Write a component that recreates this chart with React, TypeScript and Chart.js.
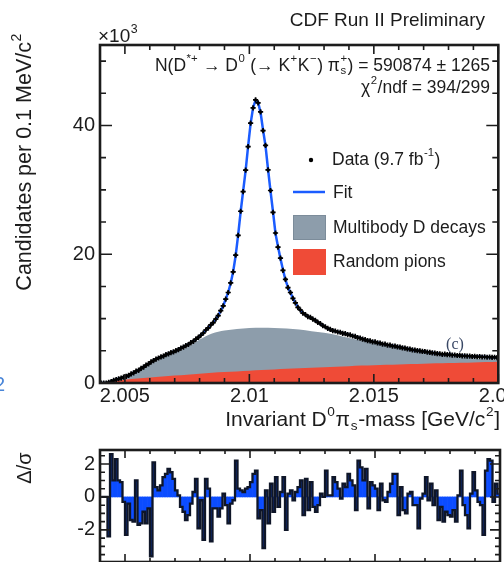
import React, { useEffect, useRef } from 'react';
import { Chart, registerables } from 'chart.js';

Chart.register(...registerables);

// ---------------- data ----------------
const MASS_MIN = 2.004;
const MASS_MAX = 2.02;
const BIN_WIDTH = 0.0001; // 0.1 MeV bins

// candidates per bin (x10^3)
const DATA = [
  0, 0, 0, 0.12, 0.22, 0.42, 0.53, 0.66, 0.76, 0.92,
  1.02, 1.18, 1.42, 1.58, 1.83, 1.97, 2.27, 2.48, 2.77, 2.98,
  3.27, 3.48, 3.72, 3.88, 4.07, 4.18, 4.42, 4.53, 4.72, 4.83,
  5.02, 5.18, 5.43, 5.57, 5.82, 5.98, 6.27, 6.47, 6.83, 7.08,
  7.42, 7.77, 8.23, 8.57, 9.03, 9.38, 9.93, 10.47, 11.24, 11.97,
  13.04, 14.06, 15.55, 17.25, 19.86, 22.94, 26.68, 29.74, 33.08, 36.72,
  40.38, 42.72, 43.98, 43.52, 42.1, 39.2, 36.9, 33.1, 29.9, 26.5,
  23.3, 21.1, 19.4, 17.5, 16.1, 14.8, 14.06, 13.14, 12.46, 11.76,
  11.34, 10.86, 10.64, 10.31, 10.19, 9.91, 9.74, 9.41, 9.24, 8.91,
  8.74, 8.47, 8.33, 8.12, 8.08, 7.92, 7.88, 7.72, 7.68, 7.52,
  7.48, 7.3, 7.23, 7.05, 6.98, 6.8, 6.73, 6.57, 6.55, 6.4,
  6.38, 6.23, 6.2, 6.05, 6.03, 5.89, 5.88, 5.74, 5.72, 5.6,
  5.57, 5.45, 5.42, 5.3, 5.27, 5.15, 5.12, 5.02, 5.0, 4.91,
  4.89, 4.79, 4.77, 4.67, 4.65, 4.56, 4.54, 4.46, 4.47, 4.4,
  4.41, 4.34, 4.35, 4.27, 4.28, 4.21, 4.22, 4.16, 4.18, 4.12,
  4.14, 4.08, 4.1, 4.04, 4.06, 4.0, 4.02, 3.97, 4.0, 3.95,
];

// total fit (x10^3) at the same bin centres
const FIT = [
  0, 0, 0, 0.1, 0.25, 0.4, 0.55, 0.65, 0.78, 0.9,
  1.0, 1.2, 1.4, 1.6, 1.8, 2.0, 2.25, 2.5, 2.75, 3.0,
  3.25, 3.5, 3.7, 3.9, 4.05, 4.2, 4.4, 4.55, 4.7, 4.85,
  5.0, 5.2, 5.4, 5.6, 5.8, 6.0, 6.25, 6.5, 6.8, 7.1,
  7.4, 7.8, 8.2, 8.6, 9.0, 9.4, 9.9, 10.5, 11.2, 12.0,
  13.0, 14.1, 15.5, 17.3, 19.8, 23.0, 26.6, 29.8, 33.0, 36.8,
  40.3, 42.8, 43.9, 43.6, 42.0, 39.3, 36.8, 33.2, 29.8, 26.6,
  23.2, 21.2, 19.3, 17.6, 16.0, 14.9, 14.0, 13.2, 12.4, 11.8,
  11.3, 10.9, 10.6, 10.35, 10.15, 9.95, 9.7, 9.45, 9.2, 8.95,
  8.7, 8.5, 8.3, 8.15, 8.05, 7.95, 7.85, 7.75, 7.65, 7.55,
  7.45, 7.33, 7.2, 7.08, 6.95, 6.83, 6.7, 6.6, 6.52, 6.43,
  6.35, 6.26, 6.17, 6.08, 6.0, 5.92, 5.85, 5.77, 5.7, 5.62,
  5.55, 5.47, 5.4, 5.32, 5.25, 5.17, 5.1, 5.04, 4.98, 4.93,
  4.87, 4.81, 4.75, 4.69, 4.63, 4.58, 4.52, 4.48, 4.45, 4.42,
  4.39, 4.36, 4.33, 4.29, 4.26, 4.23, 4.2, 4.18, 4.16, 4.14,
  4.12, 4.1, 4.08, 4.06, 4.04, 4.02, 4.0, 3.99, 3.98, 3.97,
];

// background components sampled on a coarse mass grid
const BG_MASS = [
  2.0043, 2.0045, 2.005, 2.0055, 2.006, 2.0065, 2.007, 2.0075, 2.008, 2.0085,
  2.009, 2.0095, 2.01, 2.0105, 2.011, 2.0115, 2.012, 2.0125, 2.013, 2.0135,
  2.014, 2.0145, 2.015, 2.0155, 2.016, 2.0165, 2.017, 2.0175, 2.018, 2.0185,
  2.019, 2.0195, 2.02,
];
const RANDOM_PIONS = [
  0, 0.2, 0.5, 0.7, 0.85, 1.0, 1.15, 1.3, 1.45, 1.58,
  1.7, 1.8, 1.9, 2.0, 2.1, 2.2, 2.3, 2.38, 2.46, 2.54,
  2.62, 2.7, 2.77, 2.83, 2.89, 2.95, 3.0, 3.05, 3.1, 3.15,
  3.2, 3.25, 3.3,
];
const MULTIBODY = [
  0, 0.05, 0.35, 1.05, 2.0, 2.95, 3.6, 4.25, 5.3, 6.12,
  6.45, 6.6, 6.65, 6.6, 6.45, 6.25, 6.0, 5.67, 5.34, 4.91,
  4.38, 3.9, 3.43, 2.97, 2.51, 2.1, 1.72, 1.37, 1.05, 0.8,
  0.6, 0.43, 0.3,
];

// pulls Δ/σ per bin
const PULLS = [
  0, 0, 0, -2.4, 2.6, 1.0, 2.3, 1.0, 0.9, -0.3,
  -2.3, -0.4, -1.4, -1.5, 1.0, -1.7, -1.6, -0.9, -1.6, -0.7,
  -3.6, 2.1, 0.6, 0.4, 0.7, 1.2, 1.4, 1.7, 1.5, 1.1,
  0.4, 0.1, -0.6, -0.9, -1.4, -1.1, -0.4, 0.3, 1.1, -1.9,
  -0.2, -2.6, 1.1, 0.5, -2.7, -0.7, -0.7, -1.2, -0.7, 0.2,
  -0.5, -1.6, -0.4, -0.2, 2.2, 0.5, 0.4, 0.3, 0.5, 0.6,
  0.9, 1.4, 1.6, -1.3, -0.8, -3.1, 0.4, -1.6, 0.8, -0.9,
  1.2, -0.6, 0.3, 1.2, -2.0, 0.2, 0.4, -0.2, 0.3, 0.6,
  1.0, -1.1, 1.1, -0.8, 0.9, -0.6, -0.9, -0.5, 0.2, 0.0,
  1.6, 0.1, 0.1, 1.2, 0.9, 0.5, -0.1, 0.8, 0.6, 1.4,
  1.0, 0.7, -0.8, 2.2, 1.8, 1.0, 1.7, -0.7, 0.9, 0.7,
  0.5, -0.8, 0.8, -0.2, -0.3, 0.3, 0.8, 1.4, 1.4, -1.1,
  0.6, -0.8, -1.0, 0.2, 0.3, -0.5, -0.5, -1.9, -0.1, 0.2,
  1.2, -0.2, 0.8, -0.5, 0.4, -1.4, -0.6, -1.5, -0.9, -1.1,
  -1.2, -0.8, -1.5, 0.1, 1.6, -0.5, -1.1, -1.9, 0.2, 1.5,
  0.4, -0.3, -0.5, -2.3, 1.6, 2.3, 2.2, -0.3, 0.8, 0.2,
];

// axis ticks
const X_TICKS = [2.005, 2.01, 2.015, 2.02];
const X_TICK_LABELS = ['2.005', '2.01', '2.015', '2.02'];
const X_MINOR = [2.006, 2.007, 2.008, 2.009, 2.011, 2.012, 2.013, 2.014, 2.016, 2.017, 2.018, 2.019];
const Y_TICKS = [0, 20, 40];
const Y_TICK_LABELS = ['0', '20', '40'];
const Y_MINOR = [5, 10, 15, 25, 30, 35, 45, 50];
const Y_MAX = 52.5;
const P_TICKS = [-2, 0, 2];
const P_TICK_LABELS = ['-2', '0', '2'];
const P_MINOR = [-3.5, -3, -2.5, -1.5, -1, -0.5, 0.5, 1, 1.5, 2.5];
const P_MIN = -3.95;
const P_MAX = 2.85;

// ---------------- styling ----------------
const FONT = '"Liberation Sans", Arial, Helvetica, sans-serif';
const INK = '#1c1c1c';
const BLUE = '#1b5cff';
const GRAY = '#8d9dab';
const RED = '#ef4b37';
const PULL_BLUE = '#0b4cff';
const PULL_DARK = '#0f1628';

type Seg = { t: string; sup?: string; sub?: string };

function richWidth(ctx: CanvasRenderingContext2D, segs: Seg[], size: number) {
  let w = 0;
  for (const s of segs) {
    ctx.font = `${size}px ${FONT}`;
    w += ctx.measureText(s.t).width;
    if (s.sup || s.sub) {
      ctx.font = `${size * 0.65}px ${FONT}`;
      const a = s.sup ? ctx.measureText(s.sup).width : 0;
      const b = s.sub ? ctx.measureText(s.sub).width : 0;
      w += Math.max(a, b) + size * 0.06;
    }
  }
  return w;
}

function drawRich(
  ctx: CanvasRenderingContext2D,
  segs: Seg[],
  x: number,
  y: number,
  size: number,
  align: 'left' | 'right' | 'center',
  color: string
) {
  const w = richWidth(ctx, segs, size);
  let cx = align === 'right' ? x - w : align === 'center' ? x - w / 2 : x;
  ctx.fillStyle = color;
  ctx.textAlign = 'left';
  ctx.textBaseline = 'middle';
  for (const s of segs) {
    ctx.font = `${size}px ${FONT}`;
    ctx.fillText(s.t, cx, y);
    cx += ctx.measureText(s.t).width;
    if (s.sup || s.sub) {
      ctx.font = `${size * 0.65}px ${FONT}`;
      let m = 0;
      if (s.sup) {
        ctx.fillText(s.sup, cx + size * 0.03, y - size * 0.38);
        m = Math.max(m, ctx.measureText(s.sup).width);
      }
      if (s.sub) {
        ctx.fillText(s.sub, cx + size * 0.03, y + size * 0.3);
        m = Math.max(m, ctx.measureText(s.sub).width);
      }
      cx += m + size * 0.06;
    }
  }
}

function drawTicks(
  chart: any,
  xMaj: number[],
  xMin: number[],
  yMaj: number[],
  yMin: number[],
  xMajLen: number,
  xMinLen: number,
  yMajLen: number,
  yMinLen: number
) {
  const { ctx, chartArea } = chart;
  const { left, right, top, bottom } = chartArea;
  const xs = chart.scales.x;
  const ys = chart.scales.y;
  ctx.save();
  ctx.strokeStyle = INK;
  ctx.lineWidth = 1.6;
  ctx.beginPath();
  const xt = (v: number, len: number) => {
    const p = xs.getPixelForValue(v);
    ctx.moveTo(p, bottom);
    ctx.lineTo(p, bottom - len);
    ctx.moveTo(p, top);
    ctx.lineTo(p, top + len);
  };
  const yt = (v: number, len: number) => {
    const p = ys.getPixelForValue(v);
    ctx.moveTo(left, p);
    ctx.lineTo(left + len, p);
    ctx.moveTo(right, p);
    ctx.lineTo(right - len, p);
  };
  xMaj.forEach((v) => xt(v, xMajLen));
  xMin.forEach((v) => xt(v, xMinLen));
  yMaj.forEach((v) => yt(v, yMajLen));
  yMin.forEach((v) => yt(v, yMinLen));
  ctx.stroke();
  ctx.lineWidth = 2.6;
  ctx.strokeRect(left, top, right - left, bottom - top);
  ctx.restore();
}

const binCentre = (i: number) => MASS_MIN + (i + 0.5) * BIN_WIDTH;

export default function App() {
  const topRef = useRef<HTMLCanvasElement>(null);
  const botRef = useRef<HTMLCanvasElement>(null);

  useEffect(() => {
    const dataPts = DATA.map((v, i) => ({ x: binCentre(i), y: v }));
    const fitPts = FIT.map((v, i) => ({ x: binCentre(i), y: v }));
    const randPts = BG_MASS.map((m, i) => ({ x: m, y: RANDOM_PIONS[i] }));
    const multiPts = BG_MASS.map((m, i) => ({ x: m, y: RANDOM_PIONS[i] + MULTIBODY[i] }));
    const pullPts = PULLS.map((v, i) => ({ x: binCentre(i), y: v }));

    const topDecor = {
      id: 'topDecor',
      afterDraw(chart: any) {
        const ctx: CanvasRenderingContext2D = chart.ctx;
        drawTicks(chart, X_TICKS, X_MINOR, Y_TICKS, Y_MINOR, 9, 5, 12, 6);
        ctx.save();
        // header texts
        drawRich(ctx, [{ t: 'CDF Run II Preliminary' }], 485, 21, 19, 'right', INK);
        drawRich(ctx, [{ t: '×10', sup: '3' }], 98, 37, 19, 'left', INK);
        drawRich(
          ctx,
          [
            { t: 'N(D', sup: '*+' },
            { t: ' → D', sup: '0' },
            { t: ' (→ K', sup: '+' },
            { t: 'K', sup: '−' },
            { t: ') π', sup: '+', sub: 's' },
            { t: ') = 590874 ± 1265' },
          ],
          490,
          66,
          17.5,
          'right',
          INK
        );
        drawRich(ctx, [{ t: 'χ', sup: '2' }, { t: '/ndf = 394/299' }], 490, 88, 17.5, 'right', INK);

        // legend
        ctx.fillStyle = '#000';
        ctx.beginPath();
        ctx.arc(311, 160, 2.2, 0, Math.PI * 2);
        ctx.fill();
        drawRich(ctx, [{ t: 'Data (9.7 fb', sup: '-1' }, { t: ')' }], 332, 160, 17.5, 'left', INK);
        ctx.strokeStyle = BLUE;
        ctx.lineWidth = 2.5;
        ctx.beginPath();
        ctx.moveTo(293, 192);
        ctx.lineTo(325, 192);
        ctx.stroke();
        drawRich(ctx, [{ t: 'Fit' }], 333, 193, 17.5, 'left', INK);
        ctx.fillStyle = GRAY;
        ctx.fillRect(293, 215, 33, 25);
        ctx.strokeStyle = '#7c8c9a';
        ctx.lineWidth = 1;
        ctx.strokeRect(293.5, 215.5, 32, 24);
        drawRich(ctx, [{ t: 'Multibody D decays' }], 333, 228, 17.5, 'left', INK);
        ctx.fillStyle = RED;
        ctx.fillRect(293, 249, 33, 26);
        drawRich(ctx, [{ t: 'Random pions' }], 333, 262, 17.5, 'left', INK);

        // panel tag
        ctx.font = `16px "Liberation Serif", "Times New Roman", serif`;
        ctx.fillStyle = '#3a4866';
        ctx.textAlign = 'center';
        ctx.textBaseline = 'middle';
        ctx.fillText('(c)', 455, 345);

        // axis titles
        drawRich(
          ctx,
          [{ t: 'Invariant D', sup: '0' }, { t: 'π', sub: 's' }, { t: '-mass [GeV/c', sup: '2' }, { t: ']' }],
          500,
          420,
          21,
          'right',
          INK
        );
        ctx.save();
        ctx.translate(25, 33);
        ctx.rotate(-Math.PI / 2);
        drawRich(ctx, [{ t: 'Candidates per 0.1 MeV/c', sup: '2' }], 0, 0, 21.5, 'right', INK);
        ctx.restore();

        // clipped fragment on the left edge
        ctx.font = `20px ${FONT}`;
        ctx.fillStyle = '#4a86d8';
        ctx.textAlign = 'left';
        ctx.fillText('2', -6, 385);
        ctx.restore();
      },
    };

    const botDecor = {
      id: 'botDecor',
      afterDraw(chart: any) {
        const ctx: CanvasRenderingContext2D = chart.ctx;
        drawTicks(chart, X_TICKS, X_MINOR, P_TICKS, P_MINOR, 8, 4, 10, 5);
        ctx.save();
        ctx.translate(25, 28);
        ctx.rotate(-Math.PI / 2);
        drawRich(ctx, [{ t: 'Δ/σ' }], 0, 0, 20, 'center', INK);
        ctx.restore();
      },
    };

    const tickFont = { family: FONT, size: 20 };

    const c1 = new Chart(topRef.current as HTMLCanvasElement, {
      type: 'line',
      data: {
        datasets: [
          {
            label: 'Data',
            data: dataPts,
            showLine: false,
            pointStyle: 'cross',
            pointRadius: 2.6,
            pointBorderColor: '#000',
            pointBorderWidth: 1.7,
            order: -1,
          } as any,
          {
            label: 'Data dots',
            data: dataPts,
            showLine: false,
            pointRadius: 1.6,
            pointBackgroundColor: '#000',
            pointBorderColor: '#000',
            pointBorderWidth: 0,
            order: 0,
          } as any,
          {
            label: 'Fit',
            data: fitPts,
            borderColor: BLUE,
            borderWidth: 2.5,
            pointRadius: 0,
            tension: 0,
            order: 1,
          },
          {
            label: 'Random pions',
            data: randPts,
            borderWidth: 0,
            pointRadius: 0,
            backgroundColor: RED,
            fill: 'origin',
            cubicInterpolationMode: 'monotone',
            order: 2,
          },
          {
            label: 'Multibody D decays',
            data: multiPts,
            borderWidth: 0,
            pointRadius: 0,
            backgroundColor: GRAY,
            fill: 'origin',
            cubicInterpolationMode: 'monotone',
            order: 3,
          },
        ],
      },
      options: {
        animation: false,
        responsive: false,
        maintainAspectRatio: false,
        devicePixelRatio: 1,
        events: [],
        layout: { padding: { top: 45, right: 4, left: 0, bottom: 0 } },
        plugins: { legend: { display: false }, tooltip: { enabled: false } },
        scales: {
          x: {
            type: 'linear',
            min: MASS_MIN,
            max: MASS_MAX,
            grid: { display: false, drawTicks: false },
            border: { display: false },
            afterBuildTicks: (s: any) => {
              s.ticks = X_TICKS.map((v) => ({ value: v }));
            },
            afterFit: (s: any) => {
              s.height = 57;
              s.paddingLeft = 0;
              s.paddingRight = 0;
            },
            ticks: {
              font: tickFont,
              color: INK,
              padding: 1,
              maxRotation: 0,
              autoSkip: false,
              callback: (v: any) => X_TICK_LABELS[X_TICKS.findIndex((t) => Math.abs(t - v) < 1e-7)] ?? '',
            },
          },
          y: {
            type: 'linear',
            min: 0,
            max: Y_MAX,
            grid: { display: false, drawTicks: false },
            border: { display: false },
            afterBuildTicks: (s: any) => {
              s.ticks = Y_TICKS.map((v) => ({ value: v }));
            },
            afterFit: (s: any) => {
              s.width = 100;
              s.paddingTop = 0;
              s.paddingBottom = 0;
            },
            ticks: {
              font: tickFont,
              color: INK,
              padding: 5,
              autoSkip: false,
              callback: (v: any) => Y_TICK_LABELS[Y_TICKS.indexOf(v)] ?? '',
            },
          },
        },
      } as any,
      plugins: [topDecor],
    });

    const c2 = new Chart(botRef.current as HTMLCanvasElement, {
      type: 'bar',
      data: {
        datasets: [
          {
            type: 'line',
            label: 'pull outline',
            data: pullPts,
            stepped: 'middle',
            borderColor: PULL_DARK,
            borderWidth: 2.3,
            pointRadius: 0,
            fill: false,
            order: 0,
          } as any,
          {
            type: 'bar',
            label: 'pull',
            data: pullPts,
            backgroundColor: PULL_BLUE,
            borderWidth: 0,
            barPercentage: 1,
            categoryPercentage: 1,
            order: 1,
          },
        ],
      },
      options: {
        animation: false,
        responsive: false,
        maintainAspectRatio: false,
        devicePixelRatio: 1,
        events: [],
        layout: { padding: { top: 10, right: 4, left: 0, bottom: 0 } },
        plugins: { legend: { display: false }, tooltip: { enabled: false } },
        scales: {
          x: {
            type: 'linear',
            min: MASS_MIN,
            max: MASS_MAX,
            offset: false,
            display: false,
            grid: { display: false, offset: false },
          },
          y: {
            type: 'linear',
            min: P_MIN,
            max: P_MAX,
            grid: { display: false, drawTicks: false },
            border: { display: false },
            afterBuildTicks: (s: any) => {
              s.ticks = P_TICKS.map((v) => ({ value: v }));
            },
            afterFit: (s: any) => {
              s.width = 100;
              s.paddingTop = 0;
              s.paddingBottom = 0;
            },
            ticks: {
              font: tickFont,
              color: INK,
              padding: 5,
              autoSkip: false,
              callback: (v: any) => P_TICK_LABELS[P_TICKS.indexOf(v)] ?? '',
            },
          },
        },
      } as any,
      plugins: [botDecor],
    });

    return () => {
      c1.destroy();
      c2.destroy();
    };
  }, []);

  return (
    <div
      style={{
        position: 'absolute',
        left: 0,
        top: 0,
        width: 504,
        height: 562,
        background: '#fff',
        overflow: 'hidden',
      }}
    >
      <canvas
        ref={topRef}
        width={504}
        height={440}
        style={{ position: 'absolute', left: 0, top: 0, width: 504, height: 440 }}
      />
      <canvas
        ref={botRef}
        width={504}
        height={122}
        style={{ position: 'absolute', left: 0, top: 440, width: 504, height: 122 }}
      />
    </div>
  );
}
